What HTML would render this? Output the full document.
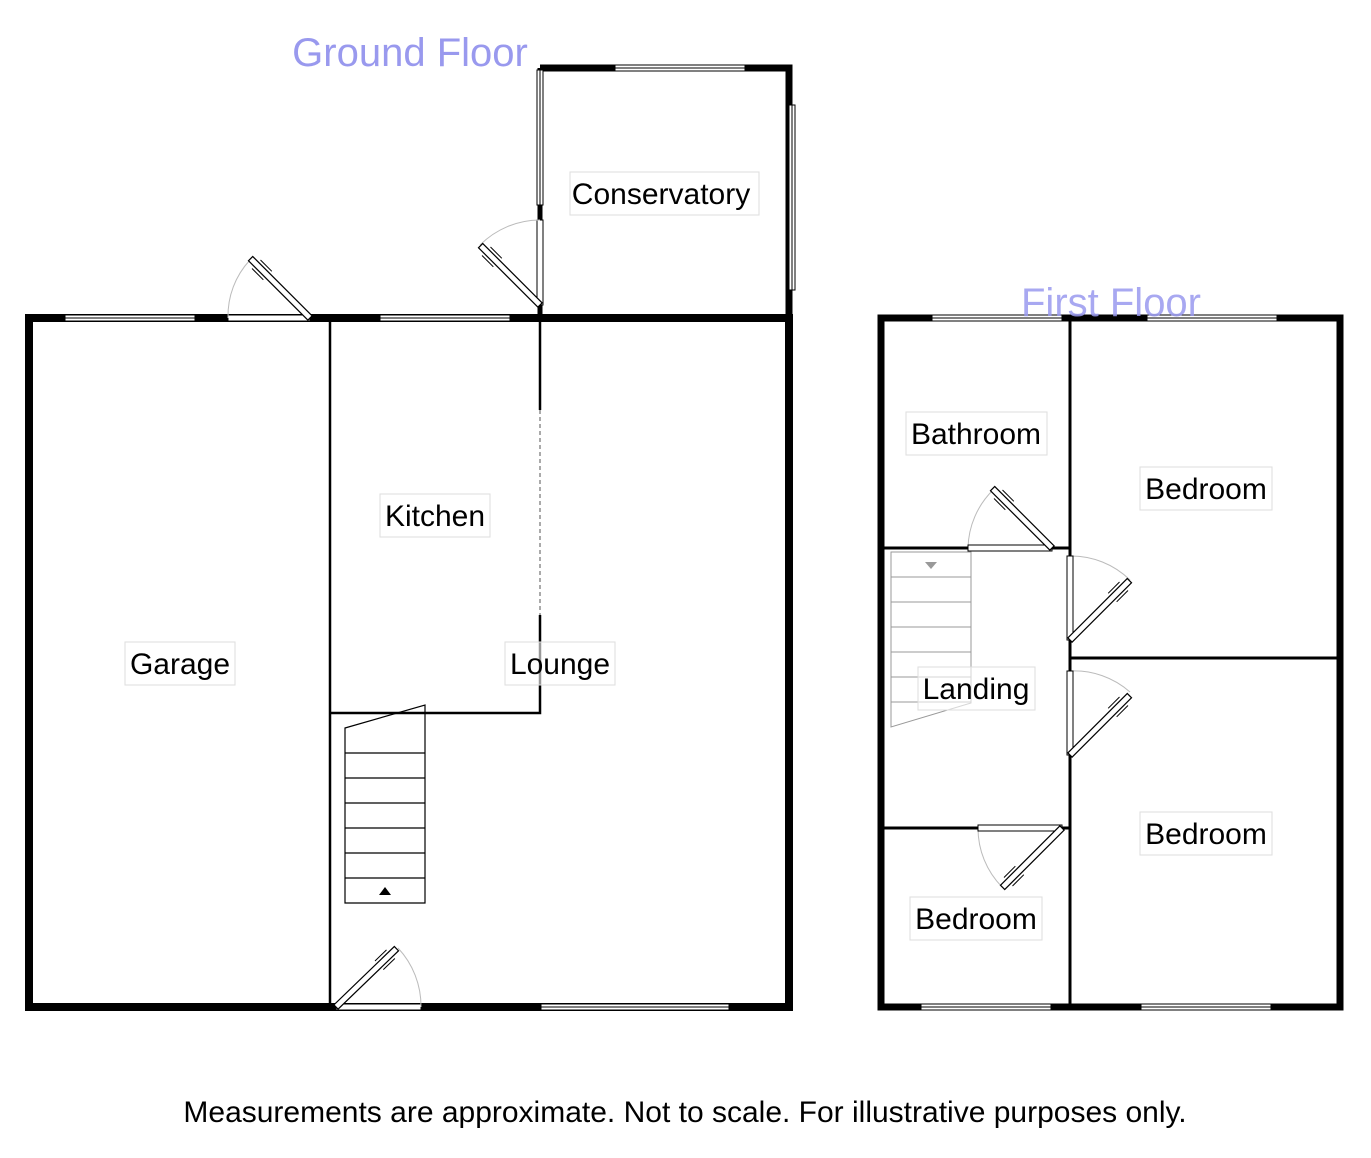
<!DOCTYPE html>
<html><head><style>body{margin:0;background:#fff}svg{display:block}text{font-family:"Liberation Sans",sans-serif}</style></head><body>
<svg width="1371" height="1158" viewBox="0 0 1371 1158" xmlns="http://www.w3.org/2000/svg">
<defs>
<g id="leaf"><rect x="0" y="-3" width="84" height="6" fill="#fff" stroke="#000" stroke-width="1.2"/><line x1="60" y1="-6" x2="76" y2="-6" stroke="#000" stroke-width="1"/><line x1="60" y1="6" x2="76" y2="6" stroke="#000" stroke-width="1"/></g>
</defs>
<g fill="none" stroke="#000">
<rect x="29" y="318" width="760" height="689" stroke-width="8"/>
<polyline points="540,68 789,68 789,318" stroke-width="7"/>
<line x1="540" y1="68" x2="540" y2="318" stroke-width="5"/>
<line x1="330" y1="318" x2="330" y2="1007" stroke-width="2.5"/>
<polyline points="540,318 540,410" stroke-width="2.5"/>
<polyline points="540,615 540,713 330,713" stroke-width="2.5"/>
<line x1="540" y1="410" x2="540" y2="615" stroke="#aaa" stroke-width="2" stroke-dasharray="4,3"/>
<line x1="540" y1="318" x2="789" y2="318" stroke-width="2"/>
</g>
<g fill="#fff" stroke="#000" stroke-width="1">
<rect x="65" y="315" width="130" height="6"/><line x1="65" y1="318" x2="195" y2="318"/>
<rect x="380" y="315" width="130" height="6"/><line x1="380" y1="318" x2="510" y2="318"/>
<rect x="541" y="1004" width="188" height="6"/><line x1="541" y1="1007" x2="729" y2="1007"/>
<rect x="615" y="65" width="130" height="6"/><line x1="615" y1="68" x2="745" y2="68"/>
<rect x="789" y="105" width="6" height="185"/><line x1="792" y1="105" x2="792" y2="290"/>
<rect x="537" y="70" width="6" height="135"/><line x1="540" y1="70" x2="540" y2="205"/>
<rect x="228" y="315" width="82" height="6"/>
<rect x="537" y="220" width="6" height="85"/>
<rect x="336" y="1004" width="85" height="6"/>
</g>
<g fill="none" stroke="#bbb" stroke-width="1">
<path d="M228,318 A82,82 0 0 1 250,260"/>
<path d="M540,220 A85,85 0 0 0 480,245"/>
<path d="M421,1007 A85,85 0 0 0 398,948"/>
<path d="M968,548 A84,84 0 0 1 993,490"/>
<path d="M1070,556 A84,84 0 0 1 1130,580"/>
<path d="M1070,671 A84,84 0 0 1 1130,692"/>
<path d="M978,828 A84,84 0 0 0 1002,887"/>
</g>
<use href="#leaf" transform="translate(310,318) rotate(-135)"/>
<use href="#leaf" transform="translate(540,305) rotate(-135)"/>
<use href="#leaf" transform="translate(336,1007) rotate(-44)"/>
<g fill="none" stroke="#000" stroke-width="1.2">
<polygon points="345,728 425,705 425,903 345,903"/>
<line x1="345" y1="753" x2="425" y2="753"/><line x1="345" y1="778" x2="425" y2="778"/>
<line x1="345" y1="803" x2="425" y2="803"/><line x1="345" y1="828" x2="425" y2="828"/>
<line x1="345" y1="853" x2="425" y2="853"/><line x1="345" y1="878" x2="425" y2="878"/>
</g>
<polygon points="379,895 391,895 385,887" fill="#000"/>
<g fill="none" stroke="#000">
<rect x="881" y="318" width="459" height="689" stroke-width="7"/>
<line x1="1070" y1="318" x2="1070" y2="1007" stroke-width="3"/>
<line x1="881" y1="548" x2="1070" y2="548" stroke-width="3"/>
<line x1="1070" y1="658" x2="1340" y2="658" stroke-width="3"/>
<line x1="881" y1="828" x2="1070" y2="828" stroke-width="3"/>
</g>
<g fill="#fff" stroke="#000" stroke-width="1">
<rect x="932" y="315" width="130" height="6"/><line x1="932" y1="318" x2="1062" y2="318"/>
<rect x="1147" y="315" width="130" height="6"/><line x1="1147" y1="318" x2="1277" y2="318"/>
<rect x="921" y="1004" width="130" height="6"/><line x1="921" y1="1007" x2="1051" y2="1007"/>
<rect x="1141" y="1004" width="130" height="6"/><line x1="1141" y1="1007" x2="1271" y2="1007"/>
<rect x="968" y="545" width="84" height="6"/>
<rect x="1067" y="556" width="6" height="84"/>
<rect x="1067" y="671" width="6" height="84"/>
<rect x="978" y="825" width="84" height="6"/>
</g>
<use href="#leaf" transform="translate(1052,548) rotate(-135)"/>
<use href="#leaf" transform="translate(1070,640) rotate(-45)"/>
<use href="#leaf" transform="translate(1070,755) rotate(-45)"/>
<use href="#leaf" transform="translate(1062,828) rotate(135)"/>
<g fill="none" stroke="#999" stroke-width="1">
<polygon points="891,552 971,552 971,703 891,727"/>
<line x1="891" y1="577" x2="971" y2="577"/><line x1="891" y1="602" x2="971" y2="602"/>
<line x1="891" y1="627" x2="971" y2="627"/><line x1="891" y1="652" x2="971" y2="652"/>
<line x1="891" y1="677" x2="971" y2="677"/><line x1="891" y1="702" x2="971" y2="702"/>
</g>
<polygon points="925,562 937,562 931,569" fill="#999"/>
<g font-size="30" fill="#000">
<rect x="570" y="172" width="189" height="43" fill="#fff" fill-opacity="0.6" stroke="#ddd"/><text x="661" y="204" text-anchor="middle">Conservatory</text>
<rect x="380" y="494" width="110" height="43" fill="#fff" fill-opacity="0.6" stroke="#ddd"/><text x="435" y="526" text-anchor="middle">Kitchen</text>
<rect x="125" y="642" width="110" height="43" fill="#fff" fill-opacity="0.6" stroke="#ddd"/><text x="180" y="674" text-anchor="middle">Garage</text>
<rect x="505" y="642" width="110" height="43" fill="#fff" fill-opacity="0.6" stroke="#ddd"/><text x="560" y="674" text-anchor="middle">Lounge</text>
<rect x="906" y="412" width="141" height="43" fill="#fff" fill-opacity="0.6" stroke="#ddd"/><text x="976" y="444" text-anchor="middle">Bathroom</text>
<rect x="1140" y="467" width="132" height="43" fill="#fff" fill-opacity="0.6" stroke="#ddd"/><text x="1206" y="499" text-anchor="middle">Bedroom</text>
<rect x="918" y="667" width="117" height="43" fill="#fff" fill-opacity="0.6" stroke="#ddd"/><text x="976" y="699" text-anchor="middle">Landing</text>
<rect x="1140" y="812" width="132" height="43" fill="#fff" fill-opacity="0.6" stroke="#ddd"/><text x="1206" y="844" text-anchor="middle">Bedroom</text>
<rect x="910" y="897" width="132" height="43" fill="#fff" fill-opacity="0.6" stroke="#ddd"/><text x="976" y="929" text-anchor="middle">Bedroom</text>
</g>
<text x="410" y="66" font-size="40" fill="#9999ee" text-anchor="middle">Ground Floor</text>
<text x="1111" y="316" font-size="40" fill="#9999ee" fill-opacity="0.85" text-anchor="middle">First Floor</text>
<text x="685" y="1122" font-size="30" fill="#000" text-anchor="middle">Measurements are approximate. Not to scale. For illustrative purposes only.</text>
</svg>
</body></html>
